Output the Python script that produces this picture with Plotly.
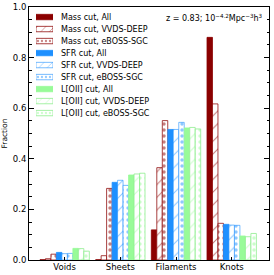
import plotly.graph_objects as go

categories = ["Voids", "Sheets", "Filaments", "Knots"]

series_names = [
    "Mass cut, All", "Mass cut, VVDS-DEEP", "Mass cut, eBOSS-SGC",
    "SFR cut, All", "SFR cut, VVDS-DEEP", "SFR cut, eBOSS-SGC",
    "L[OII] cut, All", "L[OII] cut, VVDS-DEEP", "L[OII] cut, eBOSS-SGC",
]

mass_all = [0.001, 0.001, 0.119, 0.880]
mass_vvds = [0.005, 0.017, 0.365, 0.617]
mass_eboss = [0.023, 0.283, 0.551, 0.145]
sfr_all = [0.030, 0.307, 0.516, 0.141]
sfr_vvds = [0.025, 0.315, 0.516, 0.138]
sfr_eboss = [0.026, 0.295, 0.544, 0.137]
oii_all = [0.046, 0.336, 0.522, 0.095]
oii_vvds = [0.045, 0.340, 0.524, 0.092]
oii_eboss = [0.035, 0.343, 0.518, 0.105]

values = [mass_all, mass_vvds, mass_eboss, sfr_all, sfr_vvds, sfr_eboss,
          oii_all, oii_vvds, oii_eboss]

base_colors = ["#8b0000"] * 3 + ["#1e90ff"] * 3 + ["#98fb98"] * 3
edge_colors = ["#8b0000", "rgba(139,0,0,0.75)", "rgba(139,0,0,0.75)",
               "#1e90ff", "rgba(30,144,255,0.6)", "rgba(30,144,255,0.6)",
               "#98fb98", "rgba(144,238,144,0.8)", "rgba(144,238,144,0.8)"]
kinds = ["solid", "hatch", "dots"] * 3


def make_marker(col, edge, kind, size_h=9, size_d=6):
    if kind == "solid":
        return dict(color=col, line=dict(color=col, width=0.8))
    if kind == "hatch":
        return dict(color="white", line=dict(color=edge, width=1),
                    pattern=dict(shape="/", fgcolor=col, bgcolor="white",
                                 size=size_h, solidity=0.12, fillmode="overlay"))
    return dict(color="white", line=dict(color=edge, width=1),
                pattern=dict(shape=".", fgcolor=col, bgcolor="white",
                             size=size_d, solidity=0.25, fillmode="overlay"))


x_pos = list(range(len(categories)))

fig = go.Figure()
for name, vals, col, edge, kind in zip(series_names, values, base_colors, edge_colors, kinds):
    fig.add_trace(go.Bar(x=x_pos, y=vals, name=name, width=0.098,
                         marker=make_marker(col, edge, kind), showlegend=False))

# legend drawn as swatch bars on a small hidden axis pair + text annotations
for i, (name, col, edge, kind) in enumerate(zip(series_names, base_colors, edge_colors, kinds)):
    fig.add_trace(go.Bar(x=[1], y=[i], orientation="h", width=0.45,
                         marker=make_marker(col, edge, kind, size_h=6, size_d=4),
                         xaxis="x2", yaxis="y2", showlegend=False, hoverinfo="skip"))

leg_top, leg_bot = 0.984, 0.557
row_h = (leg_top - leg_bot) / len(series_names)
for i, name in enumerate(series_names):
    fig.add_annotation(xref="paper", yref="paper", x=0.123,
                       y=leg_top - (i + 0.5) * row_h, xanchor="left", yanchor="middle",
                       text=name, showarrow=False, font=dict(size=8))

fig.add_annotation(
    xref="paper", yref="paper", x=0.985, y=0.985, xanchor="right", yanchor="top",
    text="z = 0.83; 10<sup>−4.2</sup>Mpc<sup>−3</sup>h<sup>3</sup>",
    showarrow=False, font=dict(size=8),
)

fig.update_layout(
    width=274, height=275,
    margin=dict(l=29, r=5, t=7, b=15),
    barmode="group", bargap=0.113, bargroupgap=0,
    plot_bgcolor="white", paper_bgcolor="white",
    font=dict(family="DejaVu Sans", size=8, color="black"),
    showlegend=False,
    xaxis=dict(
        range=[-0.64, 3.67], tickmode="array", tickvals=x_pos, ticktext=categories,
        showline=True, linecolor="black", linewidth=1, mirror=True,
        ticks="inside", ticklen=3, tickcolor="black", showgrid=False,
        tickfont=dict(size=8.5), zeroline=False, ticklabelstandoff=-1,
        automargin=False,
    ),
    yaxis=dict(
        range=[0, 1.0], dtick=0.2, tickformat=".1f",
        showline=True, linecolor="black", linewidth=1, mirror="ticks",
        ticks="inside", ticklen=5, tickcolor="black", showgrid=False, zeroline=False,
        minor=dict(ticks="inside", ticklen=2.5, dtick=0.05, tickcolor="black"),
        title=dict(text="Fraction", font=dict(size=7.5), standoff=4),
        tickfont=dict(size=8.5), automargin=False,
    ),
    xaxis2=dict(domain=[0.029, 0.1], range=[0, 1], anchor="y2", visible=False,
                fixedrange=True),
    yaxis2=dict(domain=[leg_bot, leg_top], range=[len(series_names) - 0.5, -0.5],
                anchor="x2", visible=False, fixedrange=True),
)

fig.write_html("out.html", post_script="document.body.style.margin='0';",
               config={"displayModeBar": False})
